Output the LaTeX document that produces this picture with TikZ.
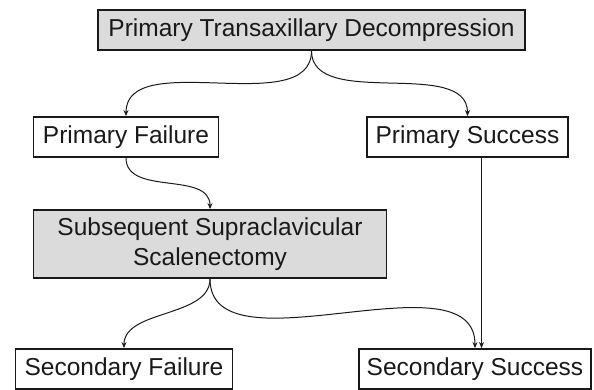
\documentclass[tikz,border=0pt]{standalone}
\usepackage{fontspec}
\setmainfont{Liberation Sans}
\usetikzlibrary{arrows.meta,calc}
\begin{document}
\begin{tikzpicture}[x=1pt,y=1pt,
  box/.style={draw=black!90,line width=1.8pt,minimum height=40pt,inner sep=0pt,align=center,font=\fontsize{24.5}{30}\selectfont,text=black!90},
  gbox/.style={box,fill=black!14},
  arr/.style={draw=black!90,line width=1pt,-{Stealth[length=6pt,width=5pt]}}]
\useasboundingbox (0,0) rectangle (594,390);
\node[gbox,minimum width=427pt] (top) at (311.5,360) {Primary Transaxillary Decompression};
\node[box,minimum width=185pt] (pf) at (126,253) {Primary Failure};
\node[box,minimum width=201pt] (ps) at (467.5,253) {Primary Success};
\node[gbox,minimum width=353pt,minimum height=68pt] (sub) at (210,146) {Subsequent Supraclavicular\\Scalenectomy};
\node[box,minimum width=217pt,minimum height=40pt] (sf) at (124,21) {Secondary Failure};
\node[box,minimum width=232pt,minimum height=40pt] (ss) at (475,21) {Secondary Success};
\draw[arr] (top.south) to[out=-90,in=90,looseness=0.9] (pf.north);
\draw[arr] (top.south) to[out=-90,in=90,looseness=0.9] (ps.north);
\draw[arr] (pf.south) to[out=-90,in=90,looseness=1] (sub.north);
\coordinate (v) at ($(ps.south)+(14,0)$);
\draw[arr] (v) -- (v |- ss.north);
\draw[arr] (sub.south) to[out=-90,in=90,looseness=0.9] (sf.north);
\draw[arr] (sub.south) to[out=-90,in=90,looseness=0.9] (ss.north);
\end{tikzpicture}
\end{document}
